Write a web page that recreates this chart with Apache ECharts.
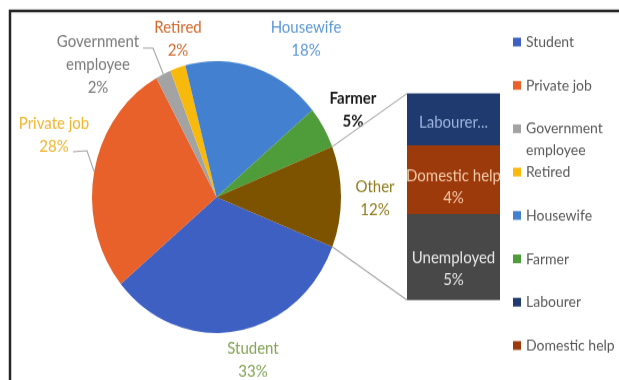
<!DOCTYPE html>
<html>
<head>
<meta charset="utf-8">
<script src="https://cdn.jsdelivr.net/npm/echarts@6/dist/echarts.min.js"></script>
<style>
  html, body { margin: 0; padding: 0; background: #ffffff; overflow: hidden; }
  #wrap { width: 619px; height: 380px; overflow: hidden; position: relative; }
  /* the chart is drawn slightly taller than wide, so the pie reads as an upright oval */
  #chart { width: 619px; height: 348px; transform: scaleY(1.092); transform-origin: 0 0; }
</style>
</head>
<body>
<div id="wrap"><div id="chart"></div></div>
<script>
// Occupation shares (%) shown in the pie
const pieNames = ['Student', 'Private job', 'Government employee', 'Retired', 'Housewife', 'Farmer', 'Other'];
const pieValues = [33, 28, 2, 2, 18, 5, 12];

// Breakdown of "Other" shown in the stacked bar (top to bottom)
const otherNames = ['Labourer', 'Domestic help', 'Unemployed'];
const otherValues = [3, 4, 5];

// Entries listed in the legend
const legendNames = ['Student', 'Private job', 'Government employee', 'Retired', 'Housewife', 'Farmer', 'Labourer', 'Domestic help'];

const FONT = 'Lato, "Open Sans", sans-serif';

const sliceColors = {
  'Student': '#3d60c2', 'Private job': '#e8612a', 'Government employee': '#a3a3a3',
  'Retired': '#f6b90c', 'Housewife': '#4381d0', 'Farmer': '#4f9d3a', 'Other': '#7e5300'
};
const labelColors = {
  'Student': '#84a456', 'Private job': '#f0b52e', 'Government employee': '#7a7a7a',
  'Retired': '#d4692c', 'Housewife': '#5b98d6', 'Farmer': '#1a1a1a', 'Other': '#8f7c1c'
};
const barColors = { 'Labourer': '#1f3a6e', 'Domestic help': '#9c3a0c', 'Unemployed': '#484848' };
const barLabelColors = { 'Labourer': '#9db5e0', 'Domestic help': '#f5caa9', 'Unemployed': '#e6e6e6' };
const barLabelOffset = { 'Labourer': [0, 3], 'Domestic help': [0, 7], 'Unemployed': [0, 11] };

// Pie label placement (block centres) and displayed names
const labelPos = {
  'Student': [253, 330], 'Private job': [54, 124], 'Government employee': [98, 59.5],
  'Retired': [178, 36], 'Housewife': [306, 36], 'Farmer': [353, 101], 'Other': [375, 182]
};
const labelText = { 'Government employee': 'Government\nemployee' };
// Legend wording: the wrapped entry keeps its first line beside the swatch
const legendText = { 'Government employee': ' \nGovernment\nemployee' };
// Leader lines: label end and elbow, finished at the slice edge
const leaderStart = {
  'Government employee': [[143, 44], [153, 44]],
  'Private job': [[73, 139], [87, 138]]
};

const PIE_CENTER = [216.5, 180.4];
const PIE_RADIUS = 124.5;

const pieData = pieNames.map((n, i) => ({
  name: n,
  value: pieValues[i],
  itemStyle: { color: sliceColors[n] },
  label: { color: labelColors[n], fontWeight: n === 'Farmer' ? 'bold' : 'normal' }
}));

// Stacked from the bottom: Unemployed, Domestic help, Labourer
const barSeries = otherNames.slice().reverse().map(n => {
  const idx = otherNames.indexOf(n);
  return {
    type: 'bar',
    name: n,
    stack: 'other',
    barWidth: '100%',
    data: [otherValues[idx]],
    itemStyle: { color: barColors[n] },
    label: {
      show: true,
      position: 'inside',
      fontFamily: FONT,
      fontSize: 15,
      lineHeight: 20,
      color: barLabelColors[n],
      offset: barLabelOffset[n],
      formatter: p => n === 'Labourer' ? 'Labourer...' : p.seriesName + '\n' + p.value + '%'
    },
    emphasis: { disabled: true },
    silent: true
  };
});

// One legend block per entry, spaced evenly down the right side
const LEGEND_FIRST = 38.5, LEGEND_STEP = 39.7, LEGEND_LINE = 20;
const legends = legendNames.map((n, i) => {
  const c = LEGEND_FIRST + i * LEGEND_STEP;
  const lines = (legendText[n] || n).split('\n').length;
  return {
    data: [n],
    orient: 'vertical',
    left: 513,
    top: c - lines * LEGEND_LINE / 2,
    padding: 0,
    itemWidth: 8,
    itemHeight: 8,
    icon: 'rect',
    selectedMode: false,
    textStyle: { fontFamily: FONT, fontSize: 14, color: '#595959', lineHeight: LEGEND_LINE },
    formatter: name => legendText[name] || name
  };
});

const option = {
  backgroundColor: '#ffffff',
  animation: false,
  legend: legends,
  grid: { left: 407, top: 85.6, width: 93, height: 189.2, containLabel: false },
  xAxis: { type: 'category', data: ['Other'], show: false },
  yAxis: { type: 'value', min: 0, max: otherValues.reduce((a, b) => a + b, 0), show: false },
  series: [
    {
      type: 'pie',
      name: 'Occupation',
      center: PIE_CENTER,
      radius: PIE_RADIUS,
      startAngle: -21.5,
      clockwise: true,
      avoidLabelOverlap: false,
      itemStyle: { borderWidth: 0 },
      label: {
        show: true,
        position: 'outside',
        fontFamily: FONT,
        fontSize: 15,
        lineHeight: 21,
        align: 'center',
        formatter: p => (labelText[p.name] || p.name) + '\n' + p.value + '%'
      },
      labelLine: { show: false },
      labelLayout: p => {
        const pos = labelPos[pieNames[p.dataIndex]];
        return { x: pos[0], y: pos[1], align: 'center', verticalAlign: 'middle' };
      },
      emphasis: { disabled: true },
      silent: true,
      data: pieData
    }
  ].concat(barSeries)
};

const chart = echarts.init(document.getElementById('chart'), null, { renderer: 'canvas' });
chart.setOption(option);

// Lines derived from the laid-out pie and bar
const data = chart.getModel().getSeriesByIndex(0).getData();
function edgePoint(layout, angle) {
  return [layout.cx + layout.r * Math.cos(angle), layout.cy + layout.r * Math.sin(angle)];
}
const lineStyle = { stroke: '#a6a6a6', lineWidth: 1.1, fill: 'none' };
const graphics = [];

Object.keys(leaderStart).forEach(n => {
  const lay = data.getItemLayout(pieNames.indexOf(n));
  const mid = (lay.startAngle + lay.endAngle) / 2;
  const pts = leaderStart[n].concat([edgePoint(lay, mid)]);
  graphics.push({ type: 'polyline', shape: { points: pts }, style: lineStyle, silent: true, z: 10 });
});

const otherLay = data.getItemLayout(pieNames.indexOf('Other'));
const gridRect = chart.getModel().getComponent('grid', 0).coordinateSystem.getRect();
const total = otherValues.reduce((a, b) => a + b, 0);
const barTop = chart.convertToPixel({ yAxisIndex: 0 }, total);
const barBottom = chart.convertToPixel({ yAxisIndex: 0 }, 0);
const pTop = edgePoint(otherLay, otherLay.startAngle);
const pBottom = edgePoint(otherLay, otherLay.endAngle);
graphics.push({ type: 'line', shape: { x1: pTop[0], y1: pTop[1], x2: gridRect.x, y2: barTop }, style: lineStyle, silent: true, z: 10 });
graphics.push({ type: 'line', shape: { x1: pBottom[0], y1: pBottom[1], x2: gridRect.x, y2: barBottom }, style: lineStyle, silent: true, z: 10 });

// Frame along the top and left edges
graphics.push({ type: 'rect', shape: { x: 10, y: 10, width: 800, height: 600 }, style: { fill: 'none', stroke: '#262626', lineWidth: 2.5 }, silent: true, z: 100 });

chart.setOption({ graphic: graphics });
</script>
</body>
</html>
